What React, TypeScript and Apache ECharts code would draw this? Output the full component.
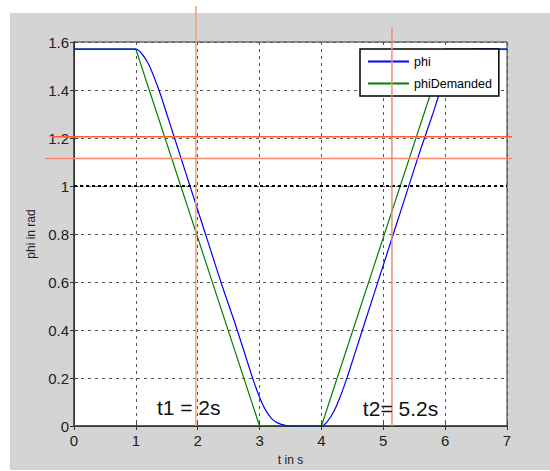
import React, { useEffect, useRef } from "react";
import * as echarts from "echarts";

// phi (actual response) samples
const phiTime = [0, 1.0, 1.1, 1.2, 1.3, 1.4, 1.5, 1.6, 1.7, 1.8, 1.9, 2.0, 2.2, 2.4, 2.6, 2.8, 2.9, 3.0, 3.1, 3.2, 3.3, 3.4, 3.5, 4.0, 4.1, 4.2, 4.3, 4.4, 4.5, 4.6, 4.8, 5.0, 5.2, 5.4, 5.6, 5.8, 5.9, 6.0, 6.1, 6.2, 6.3, 6.5, 7.0];
const phiValue = [1.57, 1.57, 1.55, 1.51, 1.45, 1.38, 1.30, 1.22, 1.14, 1.06, 0.98, 0.90, 0.74, 0.58, 0.43, 0.27, 0.19, 0.12, 0.065, 0.03, 0.012, 0.004, 0, 0, 0.02, 0.06, 0.12, 0.19, 0.27, 0.35, 0.51, 0.67, 0.83, 0.99, 1.15, 1.30, 1.38, 1.45, 1.51, 1.545, 1.565, 1.57, 1.57];

// phiDemanded samples
const demTime = [0, 1, 3, 4, 6, 7];
const demValue = [1.57, 1.57, 0, 0, 1.57, 1.57];

// hand-drawn marker lines (data units)
const vMarkerT = [1.97, 5.14];
const vMarkerTop = [1.75, 1.66];
const hMarkerV = [1.205, 1.115];
const hMarkerFrom = [-0.355, -0.47];
const hMarkerTo = [7.08, 7.08];
const vColors = ["#f5a070", "#f28a78"];
const hColors = ["#ff5b2e", "#f5876a"];

// annotation texts
const noteTexts = ["t1 = 2s", "t2= 5.2s"];
const noteT = [1.34, 4.67];
const noteV = [0.076, 0.072];

const seriesNames = ["phi", "phiDemanded"];

export default function App() {
  const ref = useRef<HTMLDivElement>(null);

  useEffect(() => {
    if (!ref.current) return;
    const chart = echarts.init(ref.current, null, { renderer: "svg" });
    const font = "'Liberation Sans', Arial, sans-serif";
    const tickFont = "'Liberation Sans Narrow', 'Arial Narrow', 'Liberation Sans', sans-serif";
    const gridStyle = { color: "#555", width: 1, type: [3, 4] as any };
    const fmt = (v: number) => String(+v.toFixed(1));

    chart.setOption({
      animation: false,
      backgroundColor: "transparent",
      grid: {
        left: 74,
        right: 43,
        top: 42,
        bottom: 38,
        show: true,
        backgroundColor: "#ffffff",
        borderColor: "#333",
        borderWidth: 1,
      },
      legend: {
        left: 360,
        top: 49,
        orient: "vertical",
        backgroundColor: "#ffffff",
        borderColor: "#000",
        borderWidth: 1.5,
        borderRadius: 0,
        padding: [6, 7, 6, 7],
        itemWidth: 41,
        itemHeight: 14,
        itemGap: 9,
        itemStyle: { opacity: 0 },
        textStyle: { fontFamily: font, fontSize: 12.5, color: "#000" },
        data: seriesNames,
      },
      xAxis: [
        {
          type: "value",
          min: 0,
          max: 7,
          interval: 1,
          name: "t in s",
          nameLocation: "middle",
          nameGap: 28,
          nameTextStyle: { fontFamily: font, fontSize: 12, color: "#222" },
          axisLine: { show: true, onZero: false, lineStyle: { color: "#444", width: 1.5 } },
          axisTick: { show: true, inside: true, length: 4, lineStyle: { color: "#444" } },
          axisLabel: { fontFamily: tickFont, fontSize: 15, color: "#222", margin: 7, formatter: fmt },
          splitLine: { show: true, lineStyle: gridStyle },
        },
        {
          type: "value",
          position: "top",
          min: 0,
          max: 7,
          interval: 1,
          axisLine: { show: true, lineStyle: { color: "#333" } },
          axisTick: { show: true, inside: true, length: 4, lineStyle: { color: "#333" } },
          axisLabel: { show: false },
          splitLine: { show: false },
        },
      ],
      yAxis: [
        {
          type: "value",
          min: 0,
          max: 1.6,
          interval: 0.2,
          name: "phi in rad",
          nameLocation: "middle",
          nameGap: 34,
          nameTextStyle: { fontFamily: font, fontSize: 12, color: "#222" },
          axisLine: { show: true, onZero: false, lineStyle: { color: "#444", width: 1.5 } },
          axisTick: { show: true, inside: true, length: 4, lineStyle: { color: "#444" } },
          axisLabel: { fontFamily: tickFont, fontSize: 15, color: "#222", margin: 5, formatter: fmt },
          splitLine: { show: true, lineStyle: gridStyle },
        },
        {
          type: "value",
          position: "right",
          min: 0,
          max: 1.6,
          interval: 0.2,
          axisLine: { show: true, lineStyle: { color: "#333" } },
          axisTick: { show: true, inside: true, length: 4, lineStyle: { color: "#333" } },
          axisLabel: { show: false },
          splitLine: { show: false },
        },
      ],
      series: [
        {
          name: seriesNames[0],
          type: "line",
          symbol: "none",
          smooth: 0.3,
          lineStyle: { color: "#0000ff", width: 1.2 },
          itemStyle: { color: "#0000ff" },
          data: phiTime.map((t, i) => [t, phiValue[i]]),
          z: 3,
        },
        {
          name: seriesNames[1],
          type: "line",
          symbol: "none",
          lineStyle: { color: "#008000", width: 1.2 },
          itemStyle: { color: "#008000" },
          data: demTime.map((t, i) => [t, demValue[i]]),
          z: 2,
          markLine: {
            silent: true,
            symbol: ["none", "none"],
            label: { show: false },
            lineStyle: { color: "#000", width: 2, type: [3, 3] },
            data: [{ yAxis: 1 }],
          },
        },
      ],
    });

    const px = (x: number, y: number) =>
      chart.convertToPixel({ gridIndex: 0 }, [x, y]) as number[];

    const graphics: any[] = [];
    vMarkerT.forEach((t, i) => {
      const a = px(t, vMarkerTop[i]);
      const b = px(t, 0);
      graphics.push({
        type: "line",
        z: 50,
        shape: { x1: a[0], y1: a[1], x2: b[0], y2: b[1] },
        style: { stroke: vColors[i], lineWidth: 1.5 },
      });
    });
    hMarkerV.forEach((v, i) => {
      const a = px(hMarkerFrom[i], v);
      const b = px(hMarkerTo[i], v);
      graphics.push({
        type: "line",
        z: 50,
        shape: { x1: a[0], y1: a[1], x2: b[0], y2: b[1] },
        style: { stroke: hColors[i], lineWidth: 1.5 },
      });
    });
    noteTexts.forEach((s, i) => {
      const p = px(noteT[i], noteV[i]);
      graphics.push({
        type: "text",
        z: 60,
        x: p[0],
        y: p[1],
        style: {
          text: s,
          fontFamily: font,
          fontSize: 21,
          fill: "#111",
          textAlign: "left",
          textVerticalAlign: "middle",
          verticalAlign: "middle",
        },
      });
    });
    chart.setOption({ graphic: graphics });

    return () => chart.dispose();
  }, []);

  return (
    <div style={{ position: "fixed", left: 0, top: 0, width: 550, height: 471, background: "#fff" }}>
      <div style={{ position: "absolute", left: 10, top: 13, width: 540, height: 457, background: "#d4d4d4" }} />
      <div ref={ref} style={{ position: "absolute", left: 0, top: 0, width: 550, height: 471 }} />
    </div>
  );
}
